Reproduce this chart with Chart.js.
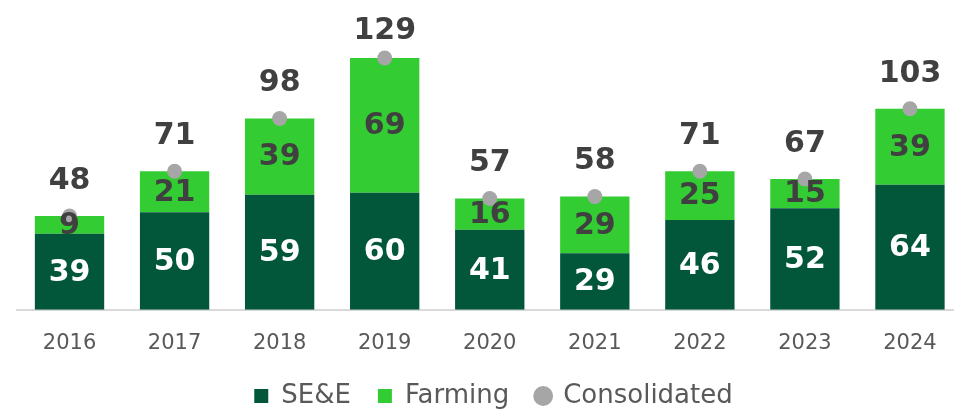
<!DOCTYPE html>
<html>
<head>
<meta charset="utf-8">
<script src="https://cdn.jsdelivr.net/npm/chart.js@4"></script>
<style>
	html, body { margin: 0; padding: 0; background: #fff; overflow: hidden; }
	.wrap { width: 970px; height: 411px; }
</style>
</head>
<body>
<div class="wrap"><canvas id="chart"></canvas></div>
<script>
const categories = ['2016', '2017', '2018', '2019', '2020', '2021', '2022', '2023', '2024'];
const seeValues = [39, 50, 59, 60, 41, 29, 46, 52, 64];
const farmingValues = [9, 21, 39, 69, 16, 29, 25, 15, 39];
const consolidatedValues = [48, 71, 98, 129, 57, 58, 71, 67, 103];

const FONT = '"DejaVu Sans", sans-serif';

// draws the numbers on segments and above the consolidated points
const valueLabels = {
	id: 'valueLabels',
	afterDatasetsDraw(chart) {
		const ctx = chart.ctx;
		ctx.save();
		ctx.textAlign = 'center';
		ctx.textBaseline = 'middle';
		ctx.font = 'bold 30px ' + FONT;
		chart.data.datasets.forEach((ds, i) => {
			const meta = chart.getDatasetMeta(i);
			meta.data.forEach((el, j) => {
				const v = ds.data[j];
				if (ds.type === 'line') {
					ctx.fillStyle = '#404040';
					ctx.fillText(v, el.x, Math.max(el.y - 35, 31));
				} else {
					ctx.fillStyle = i === 0 ? '#ffffff' : '#404040';
					ctx.fillText(v, el.x, (el.y + el.base) / 2 + 1);
				}
			});
		});
		ctx.restore();
	}
};

new Chart(document.getElementById('chart'), {
	data: {
		labels: categories,
		datasets: [
			{
				type: 'bar',
				label: 'SE&E',
				data: seeValues,
				backgroundColor: '#02573A',
				stack: 'bars',
				pointStyle: 'rect',
				barPercentage: 0.66,
				categoryPercentage: 1
			},
			{
				type: 'bar',
				label: 'Farming',
				data: farmingValues,
				backgroundColor: '#33CC33',
				stack: 'bars',
				pointStyle: 'rect',
				barPercentage: 0.66,
				categoryPercentage: 1
			},
			{
				type: 'line',
				label: 'Consolidated',
				data: consolidatedValues,
				stack: 'total',
				order: -1,
				showLine: false,
				pointStyle: 'circle',
				pointRadius: 7.5,
				pointHoverRadius: 7.5,
				pointBackgroundColor: '#A6A6A6',
				pointBorderWidth: 0,
				backgroundColor: '#A6A6A6',
				borderColor: '#A6A6A6'
			}
		]
	},
	options: {
		responsive: true,
		maintainAspectRatio: false,
		animation: false,
		layout: { padding: { left: 17, right: 0, top: 17, bottom: -8 } },
		scales: {
			x: {
				stacked: true,
				grid: { display: false, drawTicks: false },
				border: { display: true, color: '#D9D9D9', width: 2 },
				ticks: { color: '#595959', font: { family: FONT, size: 21 }, padding: 21 },
				// let the axis sit lower, into the legend's empty top space
				afterFit: scale => { scale.height -= 21; }
			},
			y: {
				stacked: true,
				display: false,
				min: 0,
				max: 150
			}
		},
		plugins: {
			tooltip: { enabled: false },
			legend: {
				position: 'bottom',
				labels: {
					usePointStyle: true,
					boxHeight: 14,
					boxWidth: 14,
					color: '#595959',
					font: { family: FONT, size: 26 },
					padding: 27,
					sort: (a, b) => a.datasetIndex - b.datasetIndex
				}
			}
		}
	},
	plugins: [valueLabels]
});
</script>
</body>
</html>
